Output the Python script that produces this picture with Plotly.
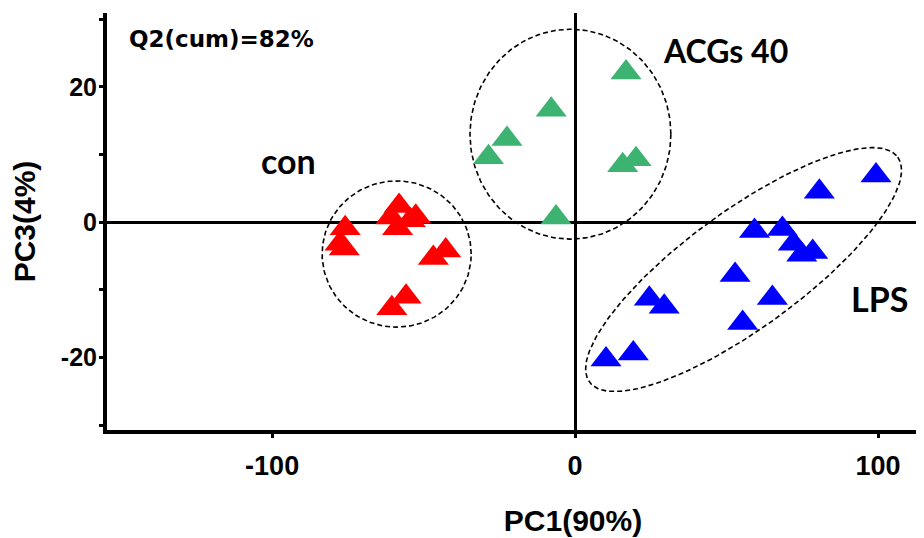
import numpy as np
import plotly.graph_objects as go

# ---- data (PC1, PC3 scores) ----
con_pc1 = [-58.1, -60.8, -52.6, -54.4, -58.6, -75.9, -77.6, -76.2, -42.7, -46.8, -55.8, -60.5]
con_pc3 = [2.4, 0.7, 0.8, 0.3, -0.9, -0.9, -3.2, -3.9, -4.2, -5.3, -11.0, -12.7]

acg_pc1 = [16.8, -7.9, -22.5, -28.6, 15.7, 20.1, -6.3]
acg_pc3 = [22.1, 16.6, 12.3, 9.6, 8.4, 9.3, 0.7]

lps_pc1 = [99.3, 80.6, 59.2, 68.4, 72.0, 74.8, 78.4, 52.8, 65.1, 55.3, 24.5, 29.4, 19.2, 10.2]
lps_pc3 = [6.9, 4.5, -1.3, -1.0, -3.2, -4.8, -4.4, -7.8, -11.2, -14.9, -11.3, -12.5, -19.4, -20.3]

group_names = ["con", "ACGs 40", "LPS"]
group_colors = ["#ff0000", "#3cb371", "#0000ff"]

x_ticks = [-100, 0, 100]
x_ticktext = ["-100", "0", "100"]
y_ticks = [-30, -20, -10, 0, 10, 20, 30]
y_ticktext = ["", "-20", "", "0", "", "20", ""]

# confidence ellipses: center, half-axis vector A, half-axis vector B (data units)
ell_centers = [(-58.9, -4.7), (-1.55, 13.0), (55.6, -7.0)]
ell_vec_a = [(24.6, 0.0), (33.15, 0.0), (50.9, 16.6)]
ell_vec_b = [(0.0, 10.8), (0.0, 15.5), (11.3, -7.0)]

label_x = [-94.7, 49.5, 100.3]
label_y = [9.1, 25.4, -11.2]

fig = go.Figure()

t = np.linspace(0, 2 * np.pi, 200)
for (cx, cy), (ax, ay), (bx, by) in zip(ell_centers, ell_vec_a, ell_vec_b):
    fig.add_trace(go.Scatter(
        x=cx + np.cos(t) * ax + np.sin(t) * bx,
        y=cy + np.cos(t) * ay + np.sin(t) * by,
        mode="lines", line=dict(color="black", width=1.6, dash="5px,3px"),
        hoverinfo="skip", showlegend=False))

for name, color, xs, ys in zip(group_names, group_colors,
                               [con_pc1, acg_pc1, lps_pc1],
                               [con_pc3, acg_pc3, lps_pc3]):
    fig.add_trace(go.Scatter(
        x=xs, y=ys, mode="markers", name=name,
        marker=dict(symbol="triangle-up", size=27, color=color,
                    line=dict(width=0)),
        showlegend=False))

for txt, lx, ly, sz in zip(group_names, label_x, label_y, [34, 32, 34]):
    fig.add_annotation(x=lx, y=ly, text=txt, showarrow=False,
                       xanchor="center", yanchor="middle",
                       font=dict(family="Lato, Open Sans, sans-serif", size=sz,
                                 color="black", weight="bold"))

fig.add_annotation(x=-147.9, y=27.0, text="Q2(cum)=82%", showarrow=False,
                   xanchor="left", yanchor="middle",
                   font=dict(family="DejaVu Sans", size=23, color="black", weight="bold"))

xtick_font = dict(family="Arial, Liberation Sans, sans-serif", size=27, color="black", weight="bold")
ytick_font = dict(family="Arial, Liberation Sans, sans-serif", size=25, color="black", weight="bold")
title_font = dict(family="Arial, Liberation Sans, sans-serif", size=30, color="black", weight="bold")

# The reference is a crop of a wider, symmetric PC1 axis; the figure is wider than
# the window so the plot continues past the right edge as in the reference.
# The page body adds an 8px offset; margins compensate for it.
fig.update_layout(
    width=1031, height=538, autosize=False,
    margin=dict(l=99, r=0, t=5, b=116),
    plot_bgcolor="white", paper_bgcolor="white",
    xaxis=dict(range=[-154.5, 153.1], showgrid=False,
               showline=True, linecolor="black", linewidth=4,
               ticks="outside", ticklen=4, tickwidth=3, tickcolor="black",
               tickvals=x_ticks, ticktext=x_ticktext, tickfont=xtick_font,
               ticklabelstandoff=5,
               zeroline=True, zerolinecolor="black", zerolinewidth=3,
               title=dict(text="PC1(90%)", font=title_font, standoff=31)),
    yaxis=dict(range=[-30.7, 30.9], showgrid=False,
               showline=True, linecolor="black", linewidth=4,
               ticks="outside", ticklen=4, tickwidth=3, tickcolor="black",
               tickvals=y_ticks, ticktext=y_ticktext, tickfont=ytick_font,
               ticklabelstandoff=-3,
               zeroline=True, zerolinecolor="black", zerolinewidth=3,
               title=dict(text="PC3(4%)", font=title_font, standoff=28)),
)

fig.write_html("out.html")
